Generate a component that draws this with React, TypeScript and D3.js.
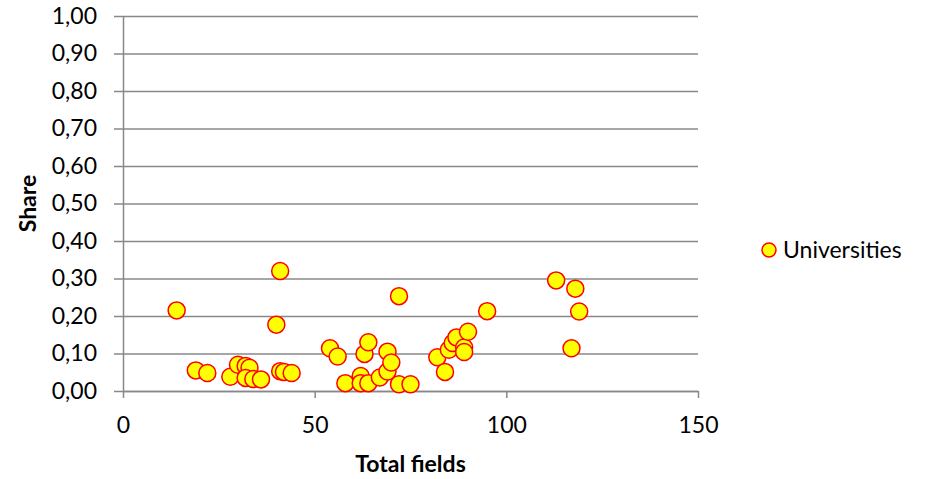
import { useEffect, useRef } from "react";
import * as d3 from "d3";

// Universities: total fields vs share
const totalFields = [
  14, 19, 22, 28, 30, 32, 33, 32, 34, 36, 40, 41, 41, 42, 44, 54, 56, 58, 62, 62,
  63, 64, 64, 67, 69, 69, 70, 72, 72, 75, 82, 84, 85, 86, 87, 89, 89, 90, 95,
  113, 117, 118, 119,
];
const share = [
  0.215, 0.055, 0.048, 0.038, 0.07, 0.067, 0.062, 0.035, 0.032, 0.031, 0.177, 0.32,
  0.053, 0.051, 0.048, 0.114, 0.092, 0.021, 0.04, 0.021, 0.099, 0.13, 0.021, 0.036,
  0.105, 0.052, 0.076, 0.253, 0.018, 0.018, 0.09, 0.051, 0.11, 0.128, 0.143, 0.116,
  0.104, 0.158, 0.213, 0.295, 0.114, 0.273, 0.212,
];
const xTicks = [0, 50, 100, 150];
const yTicks = [0, 0.1, 0.2, 0.3, 0.4, 0.5, 0.6, 0.7, 0.8, 0.9, 1.0];
const seriesName = "Universities";

const FONT = "Lato, 'Open Sans', sans-serif";
const FONT_SIZE = "23px";
const GRID = "#888888";

export default function App() {
  const svgRef = useRef<SVGSVGElement>(null);

  useEffect(() => {
    const width = 930;
    const height = 479;
    const margin = { top: 16, right: 232, bottom: 88, left: 123 };
    const innerW = width - margin.left - margin.right;
    const innerH = height - margin.top - margin.bottom;

    const svg = d3.select(svgRef.current);
    svg.selectAll("*").remove();
    svg.attr("width", width).attr("height", height);

    const g = svg.append("g").attr("transform", `translate(${margin.left},${margin.top})`);

    const x = d3.scaleLinear().domain([0, 150]).range([0, innerW]);
    const y = d3.scaleLinear().domain([0, 1]).range([innerH, 0]);

    // horizontal gridlines + y axis
    g.append("g")
      .call(
        d3.axisLeft(y)
          .tickValues(yTicks)
          .tickSize(-innerW)
          .tickSizeOuter(0)
          .tickFormat(d => d3.format(".2f")(d as number).replace(".", ","))
      )
      .call(ax => {
        ax.select(".domain").attr("stroke", GRID).attr("stroke-width", 1.5);
        ax.selectAll(".tick line").attr("stroke", GRID).attr("stroke-width", 1.5).attr("x1", -9);
        ax.selectAll(".tick text")
          .attr("x", -26)
          .attr("fill", "#000")
          .style("font-size", FONT_SIZE)
          .style("font-family", FONT);
      });

    // x axis
    g.append("g")
      .attr("transform", `translate(0,${innerH})`)
      .call(d3.axisBottom(x).tickValues(xTicks).tickSize(7).tickSizeOuter(0))
      .call(ax => {
        ax.select(".domain").attr("stroke", GRID).attr("stroke-width", 1.5);
        ax.selectAll(".tick line").attr("stroke", GRID).attr("stroke-width", 1.5);
        ax.selectAll(".tick text")
          .attr("y", 26)
          .attr("fill", "#000")
          .style("font-size", FONT_SIZE)
          .style("font-family", FONT);
      });

    // points
    g.append("g")
      .selectAll("circle")
      .data(totalFields.map((v, i) => [v, share[i]]))
      .enter()
      .append("circle")
      .attr("cx", d => x(d[0]))
      .attr("cy", d => y(d[1]))
      .attr("r", 8.5)
      .attr("fill", "#FFFF00")
      .attr("stroke", "#FF0000")
      .attr("stroke-width", 1.5);

    // axis titles
    svg.append("text")
      .attr("x", margin.left + x(75))
      .attr("y", 472)
      .attr("text-anchor", "middle")
      .style("font-size", FONT_SIZE)
      .style("font-weight", "bold")
      .style("font-family", FONT)
      .text("Total fields");

    svg.append("text")
      .attr("transform", `translate(36,${margin.top + y(0.5)}) rotate(-90)`)
      .attr("text-anchor", "middle")
      .style("font-size", FONT_SIZE)
      .style("font-weight", "bold")
      .style("font-family", FONT)
      .text("Share");

    // legend
    const lg = svg.append("g").attr("transform", "translate(769,250)");
    lg.append("circle")
      .attr("r", 7)
      .attr("fill", "#FFFF00")
      .attr("stroke", "#FF0000")
      .attr("stroke-width", 1.5);
    lg.append("text")
      .attr("x", 14)
      .attr("y", 8)
      .style("font-size", FONT_SIZE)
      .style("font-family", FONT)
      .text(seriesName);
  }, []);

  return <svg ref={svgRef} style={{ position: "absolute", left: 0, top: 0, display: "block" }} />;
}
